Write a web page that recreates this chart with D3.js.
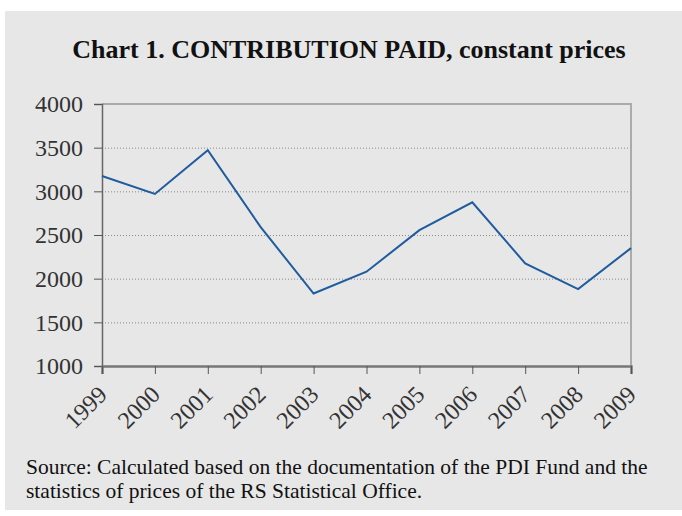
<!DOCTYPE html>
<html>
<head>
<meta charset="utf-8">
<script src="https://cdn.jsdelivr.net/npm/d3@7"></script>
<style>
  body { margin: 0; background: #fff; }
  svg { display: block; }
  text { font-family: "Liberation Serif", serif; }
</style>
</head>
<body>
<svg id="chart"></svg>
<script>
// data
const years = ["1999", "2000", "2001", "2002", "2003", "2004", "2005", "2006", "2007", "2008", "2009"];
const contribution = [3175, 2970, 3470, 2590, 1830, 2080, 2555, 2875, 2175, 1880, 2350];
const yTicks = [1000, 1500, 2000, 2500, 3000, 3500, 4000];

const title = "Chart 1. CONTRIBUTION PAID, constant prices";
const sourceLines = [
    "Source: Calculated based on the documentation of the PDI Fund and the",
    "statistics of prices of the RS Statistical Office."
];

const width = 682, height = 516;
const margin = {top: 104, right: 51, bottom: 150, left: 102};

const svg = d3.select("#chart")
    .attr("width", width)
    .attr("height", height);

svg.append("rect")
    .attr("x", 5).attr("y", 11)
    .attr("width", width - 5).attr("height", 499)
    .attr("fill", "#e7e7e7");

svg.append("text")
    .attr("x", 349).attr("y", 58)
    .attr("text-anchor", "middle")
    .style("font-family", "'Liberation Serif', serif")
    .attr("font-weight", "bold")
    .attr("font-size", 26)
    .attr("fill", "#111")
    .text(title);

const x = d3.scalePoint()
    .domain(years)
    .range([margin.left, width - margin.right]);

const y = d3.scaleLinear()
    .domain([1000, 4000])
    .range([height - margin.bottom, margin.top]);

// dotted grid
svg.append("g")
    .selectAll("line")
    .data(yTicks.filter(d => d > 1000 && d < 4000))
    .join("line")
    .attr("x1", margin.left).attr("x2", width - margin.right)
    .attr("y1", d => y(d) + 0.5).attr("y2", d => y(d) + 0.5)
    .attr("stroke", "#8a8a8a")
    .attr("stroke-width", 1)
    .attr("stroke-dasharray", "1,2");

// top and right frame
svg.append("path")
    .attr("d", `M${margin.left},${y(4000)}H${width - margin.right}V${y(1000)}`)
    .attr("fill", "none")
    .attr("stroke", "#a9aca9")
    .attr("stroke-width", 2);

// y axis
const yAxis = svg.append("g")
    .attr("transform", `translate(${margin.left},0)`)
    .call(d3.axisLeft(y).tickValues(yTicks).tickSize(8).tickPadding(11).tickFormat(d3.format("d")));

// x axis
const xAxis = svg.append("g")
    .attr("transform", `translate(0,${y(1000)})`)
    .call(d3.axisBottom(x).tickSize(8));

[yAxis, xAxis].forEach(g => {
    g.attr("font-family", null).attr("font-size", null);
    g.select(".domain").attr("stroke", "#666").attr("stroke-width", 1.5);
    g.selectAll(".tick line").attr("stroke", "#555");
    g.selectAll("text")
        .style("font-family", "'Liberation Serif', serif")
        .style("font-size", "24px")
        .attr("fill", "#333");
});
xAxis.select(".domain").attr("stroke-width", 2.5).attr("stroke", "#777");

xAxis.selectAll(".tick text")
    .attr("text-anchor", "end")
    .attr("dy", 0)
    .attr("y", 0)
    .attr("transform", "translate(6,30) rotate(-45)");

// series line
const line = d3.line()
    .x((d, i) => x(years[i]))
    .y(d => y(d));

svg.append("path")
    .datum(contribution)
    .attr("d", line)
    .attr("fill", "none")
    .attr("stroke", "#1f5c9e")
    .attr("stroke-width", 2);

// source note
svg.append("g")
    .selectAll("text")
    .data(sourceLines)
    .join("text")
    .attr("x", 26)
    .attr("y", (d, i) => 474 + i * 24)
    .style("font-family", "'Liberation Serif', serif")
    .attr("font-size", 21.5)
    .attr("fill", "#111")
    .text(d => d);
</script>
</body>
</html>
